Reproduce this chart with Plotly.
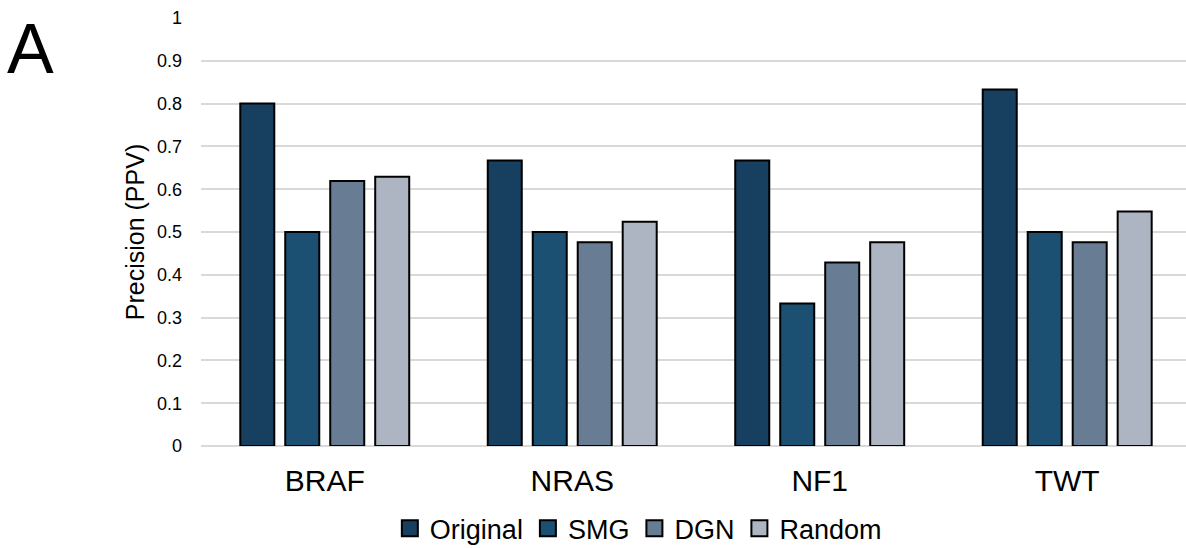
import plotly.graph_objects as go

categories = ["BRAF", "NRAS", "NF1", "TWT"]
series_names = ["Original", "SMG", "DGN", "Random"]
original = [0.800, 0.667, 0.667, 0.833]
smg = [0.500, 0.500, 0.333, 0.500]
dgn = [0.619, 0.476, 0.429, 0.476]
random_ = [0.629, 0.524, 0.476, 0.548]
colors = ["#173f5f", "#1b5073", "#687d94", "#adb5c2"]
y_ticks = [0, 0.1, 0.2, 0.3, 0.4, 0.5, 0.6, 0.7, 0.8, 0.9, 1]
y_ticktext = ["0", "0.1", "0.2", "0.3", "0.4", "0.5", "0.6", "0.7", "0.8", "0.9", "1"]

FONT = "Liberation Sans, Arial, sans-serif"
fig = go.Figure()
for name, vals, col in zip(series_names, [original, smg, dgn, random_], colors):
    fig.add_trace(go.Bar(
        x=categories, y=vals, name=name, showlegend=False,
        marker=dict(color=col, line=dict(color="#000000", width=2)),
    ))
# legend proxies
for name, col in zip(series_names, colors):
    fig.add_trace(go.Scatter(
        x=[None], y=[None], mode="markers", name=name,
        marker=dict(symbol="square", size=17, color=col, line=dict(color="#000000", width=2)),
    ))

fig.update_layout(
    width=1186, height=548,
    margin=dict(l=201, r=0, t=18, b=102),
    paper_bgcolor="white", plot_bgcolor="white",
    barmode="group", bargap=0.273, bargroupgap=0.244,
    font=dict(family=FONT, color="#000000"),
    showlegend=True,
    legend=dict(orientation="h", xref="paper", x=0.444, xanchor="center",
                yref="container", y=0.035, yanchor="middle",
                font=dict(size=27, family=FONT), bgcolor="rgba(0,0,0,0)"),
    xaxis=dict(range=[-0.5, 3.48], showgrid=False, showline=False, zeroline=False,
               ticks="", tickfont=dict(size=30, family=FONT), ticklabelstandoff=14,
               fixedrange=True, automargin=False),
    yaxis=dict(range=[0, 1], tickvals=y_ticks, ticktext=y_ticktext,
               showgrid=True, gridcolor="#d9d9d9", gridwidth=2,
               zeroline=True, zerolinecolor="#d9d9d9", zerolinewidth=2,
               showline=False, ticks="", tickfont=dict(size=18, family=FONT),
               ticklabelstandoff=18, automargin=False,
               title=dict(text="Precision (PPV)", font=dict(size=25, family=FONT), standoff=5),
               fixedrange=True),
    annotations=[dict(text="A", xref="paper", yref="paper", x=-0.199, y=0.927,
                      xanchor="left", yanchor="middle", showarrow=False,
                      font=dict(size=70, family=FONT, color="#000000"))],
)
fig.write_html(
    "out.html",
    config={"displayModeBar": False},
    post_script="document.body.style.margin='0';document.body.style.overflow='hidden';",
)
